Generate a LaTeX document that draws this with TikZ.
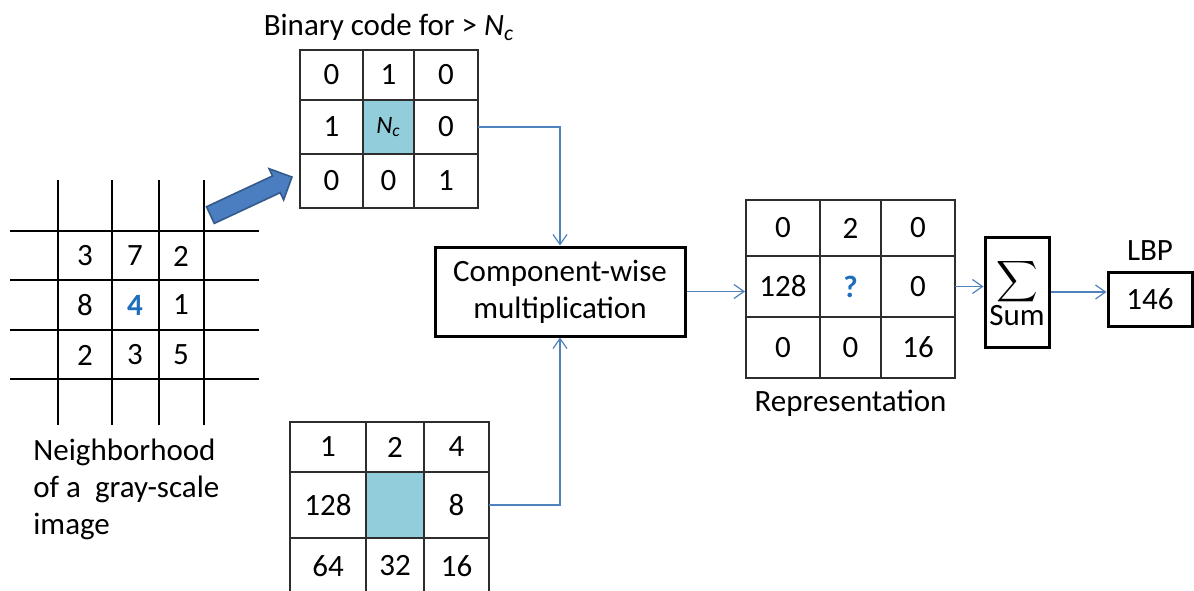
\documentclass[tikz,border=0pt]{standalone}
\usepackage{exscale}
\usepackage{fontspec}
\setmainfont{Carlito}
\usetikzlibrary{arrows.meta, positioning, matrix, shapes.arrows}

\definecolor{linkblue}{RGB}{79,129,189}
\definecolor{arrowfill}{RGB}{74,126,192}
\definecolor{arrowedge}{RGB}{52,90,140}
\definecolor{cellblue}{RGB}{146,205,220}
\definecolor{numblue}{RGB}{31,110,190}
\definecolor{cellline}{RGB}{45,45,45}

\begin{document}
\begin{tikzpicture}[
  x=0.5pt, y=-0.5pt,
  font=\fontsize{15.5}{18.5}\selectfont,
  link/.style={-{Straight Barb[length=5pt, width=7pt]}, draw=linkblue, line width=0.6pt},
  opbox/.style={rectangle, draw, line width=1.5pt, align=center, inner sep=2pt},
  cellbox/.style={rectangle, draw=cellline, line width=1pt, inner sep=0pt, outer sep=0pt, anchor=center},
  cellgrid/.style={matrix of nodes, nodes={cellbox}, nodes in empty cells,
    inner sep=0pt, outer sep=0pt, column sep=-1pt, row sep=-1pt},
  gridline/.style={line width=1pt},
  hot/.style={text=numblue, font=\fontsize{15.5}{18.5}\selectfont\bfseries}
]
\useasboundingbox (0,0) rectangle (1194,590);

% neighborhood of the image
\draw[gridline] (58,180) -- (58,425) (112,180) -- (112,425)
  (159,180) -- (159,425) (204,180) -- (204,425);
\draw[gridline] (10,231) -- (259,231) (10,280) -- (259,280)
  (10,330) -- (259,330) (10,379) -- (259,379);
\node (n11) at (85,256) {3};
\node (n12) at (135,256) {7};
\node (n13) at (181,256) {2};
\node (n21) at (85,305) {8};
\node[hot] (n22) at (135,305) {4};
\node (n23) at (181,305) {1};
\node (n31) at (85,355) {2};
\node (n32) at (135,355) {3};
\node (n33) at (181,355) {5};
\node[anchor=north west, align=left, inner sep=0pt] (caption) at (33,439)
  {Neighborhood\\of a\ \ gray-scale\\image};

\node[single arrow, draw=arrowedge, fill=arrowfill, line width=0.8pt, inner sep=4.2pt,
  single arrow head extend=4pt, minimum height=45pt, rotate=25] (jump) at (247,198) {};

% binary code
\matrix (bin) [cellgrid,
  column 1/.style={nodes={minimum width=31.5pt}},
  column 2/.style={nodes={minimum width=25.5pt}},
  column 3/.style={nodes={minimum width=32pt}},
  row 1/.style={nodes={minimum height=25pt}},
  row 2/.style={nodes={minimum height=27pt}},
  row 3/.style={nodes={minimum height=27pt}}] at (389,129) {
  0 & 1 & 0 \\
  1 & |[fill=cellblue, font=\fontsize{12.5}{14}\selectfont\itshape]| N\textsubscript{c} & 0 \\
  0 & 0 & 1 \\
};
\node[above=0.5pt of bin] (bintitle) {Binary code for > {\itshape N\textsubscript{c}}};

% weights
\matrix (wts) [cellgrid,
  column 1/.style={nodes={minimum width=38pt}},
  column 2/.style={nodes={minimum width=29pt}},
  column 3/.style={nodes={minimum width=32.5pt}},
  row 1/.style={nodes={minimum height=25pt}},
  row 2/.style={nodes={minimum height=33pt}},
  row 3/.style={nodes={minimum height=28pt}}] at (389.5,508) {
  1 & 2 & 4 \\
  128 & |[fill=cellblue]| & 8 \\
  64 & 32 & 16 \\
};

\node[opbox, minimum width=125pt, minimum height=44.5pt] (comp) at (560,291.5)
  {Component-wise\\multiplication};

% representation
\matrix (rep) [cellgrid,
  column 1/.style={nodes={minimum width=37pt}},
  column 2/.style={nodes={minimum width=30.5pt}},
  column 3/.style={nodes={minimum width=37pt}},
  row 1/.style={nodes={minimum height=28pt}},
  row 2/.style={nodes={minimum height=30.5pt}},
  row 3/.style={nodes={minimum height=30.5pt}}] at (850.5,289) {
  0 & 2 & 0 \\
  128 & |[hot]| ? & 0 \\
  0 & 0 & 16 \\
};
\node[below=2pt of rep] (replabel) {Representation};

\node[opbox, minimum width=32pt, minimum height=55pt, inner sep=1pt] (sum) at (1017,292)
  {$\displaystyle\sum$\\Sum};
\node[opbox, minimum width=42pt, minimum height=27pt] (lbp) at (1150,299) {146};
\node[above=1.5pt of lbp] (lbplabel) {LBP};

\draw[link] (bin-2-3.east) -| (comp.north);
\draw[link] (wts-2-3.east) -| (comp.south);
\draw[link] (comp.east) -- (comp.east -| rep.west);
\draw[link] (rep-2-3.east) -- (rep-2-3.east -| sum.west);
\draw[link] (sum.east) -- (sum.east -| lbp.west);
\end{tikzpicture}
\end{document}
